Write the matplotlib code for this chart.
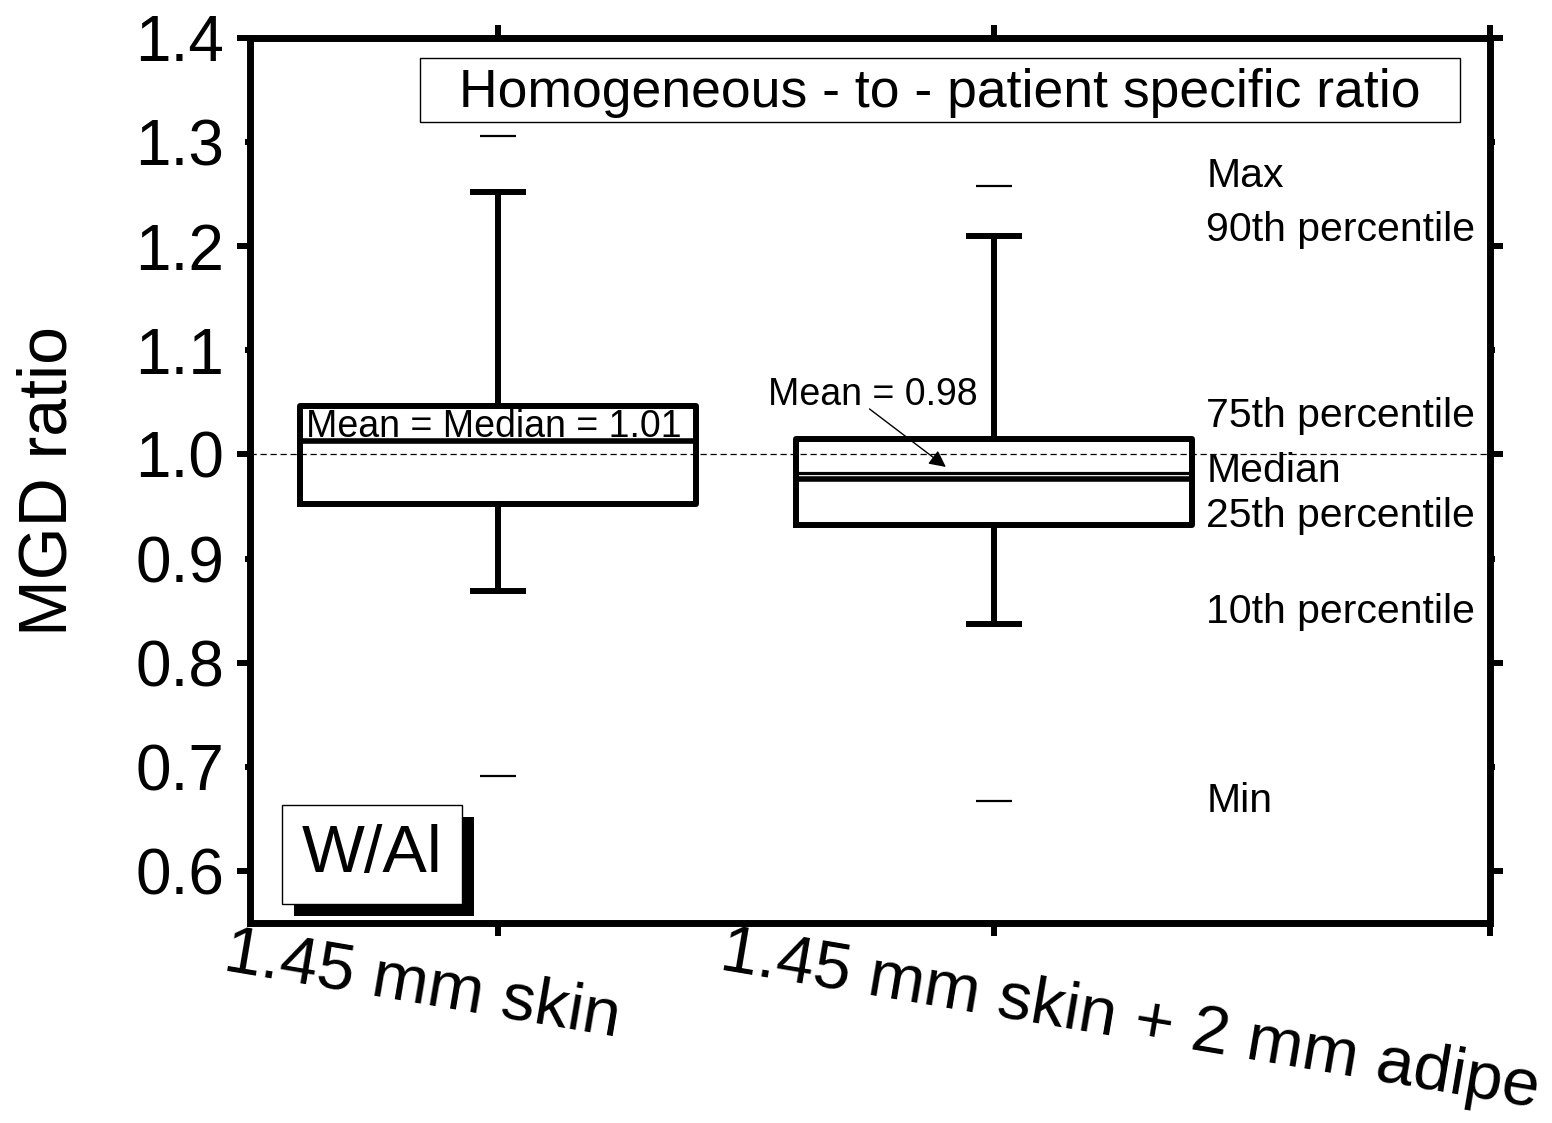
import matplotlib
matplotlib.use("Agg")
import matplotlib.pyplot as plt
from matplotlib.patches import Rectangle
from matplotlib.transforms import ScaledTranslation

plt.rcParams['font.family'] = ['Liberation Sans', 'DejaVu Sans']

# ---- data ----
categories = ["1.45 mm skin", "1.45 mm skin + 2 mm adipe"]
q1 = [0.952, 0.932]
median = [1.013, 0.976]
q3 = [1.047, 1.015]
mean = [1.013, 0.982]
p10 = [0.869, 0.837]
p90 = [1.252, 1.210]
vmin = [0.691, 0.667]
vmax = [1.306, 1.258]

legend_labels = ["Max", "90th percentile", "75th percentile", "Median",
                 "25th percentile", "10th percentile", "Min"]
legend_y = [1.267, 1.216, 1.037, 0.984, 0.941, 0.849, 0.667]

yticks_major = [0.6, 0.8, 1.0, 1.2, 1.4]
yticks_minor = [0.7, 0.9, 1.1, 1.3]

fig = plt.figure(figsize=(15.52, 11.23), dpi=100)
ax = fig.add_axes([250/1552, 1-923/1123, 1240/1552, 885/1123])

positions = [1, 2]
stats = []
for i, c in enumerate(categories):
    stats.append(dict(label=c, q1=q1[i], med=median[i], q3=q3[i], mean=mean[i],
                      whislo=p10[i], whishi=p90[i], fliers=[]))

ax.bxp(stats, positions=positions, widths=0.8, capwidths=0.1,
       showmeans=True, meanline=True, showfliers=False,
       boxprops=dict(color='black', linewidth=4.3),
       medianprops=dict(color='black', linewidth=4.0),
       meanprops=dict(color='black', linewidth=2.3, linestyle='-'),
       whiskerprops=dict(color='black', linewidth=4.3),
       capprops=dict(color='black', linewidth=4.3),
       manage_ticks=False, zorder=3)

# min / max dashes
ax.hlines(vmax, [p - 0.036 for p in positions], [p + 0.036 for p in positions],
          colors='black', linewidth=1.6, zorder=3)
ax.hlines(vmin, [p - 0.036 for p in positions], [p + 0.036 for p in positions],
          colors='black', linewidth=1.6, zorder=3)

# reference line
ax.axhline(1.0, color='black', linewidth=0.9, linestyle=(0, (5, 3)), zorder=2)

ax.set_xlim(0.5, 3.0)
ax.set_ylim(0.55, 1.4)

# spines
for s in ax.spines.values():
    s.set_linewidth(5)

# y ticks
ax.set_yticks(yticks_major)
ax.set_yticklabels([f"{v:.1f}" for v in yticks_major])
ax.set_yticks(yticks_minor, minor=True)
ax.set_yticklabels([f"{v:.1f}" for v in yticks_minor], minor=True)
ax.tick_params(axis='y', which='major', direction='out', length=9.4, width=4.3,
               labelsize=46, pad=9, left=True, right=True)
ax.tick_params(axis='y', which='minor', direction='out', length=3.6, width=4.3,
               labelsize=46, pad=14.8, left=True, right=True)

# x ticks
ax.set_xticks([1, 2, 3])
ax.set_xticklabels(categories + [""])
ax.tick_params(axis='x', which='major', direction='out', length=9.4, width=4.3,
               labelsize=48.5, pad=0, top=True, bottom=True)
offset = ScaledTranslation(-2.68, 0.14, fig.dpi_scale_trans)
for lab in ax.get_xticklabels():
    lab.set_rotation(-9.6)
    lab.set_rotation_mode('anchor')
    lab.set_ha('left')
    lab.set_va('top')
    lab.set_transform(lab.get_transform() + offset)

ax.set_ylabel("MGD ratio", fontsize=49)
ax.yaxis.set_label_coords(-0.137, 0.5)

# title box
ax.add_patch(Rectangle((0.137, 0.905), 0.839, 0.072, transform=ax.transAxes,
                       facecolor='white', edgecolor='black', linewidth=1.0, zorder=4))
ax.text(0.556, 0.938, "Homogeneous - to - patient specific ratio",
        transform=ax.transAxes, ha='center', va='center', fontsize=38.5, zorder=5)

# W/Al box with shadow
ax.add_patch(Rectangle((0.0355, 0.0079), 0.145, 0.1119, transform=ax.transAxes,
                       facecolor='black', edgecolor='black', linewidth=0, zorder=4))
ax.add_patch(Rectangle((0.026, 0.0215), 0.145, 0.1118, transform=ax.transAxes,
                       facecolor='white', edgecolor='black', linewidth=1.0, zorder=5))
ax.text(0.0984, 0.0768, "W/Al", transform=ax.transAxes, ha='center', va='center',
        fontsize=48, zorder=6)

# legend-like labels
for lab, y in zip(legend_labels, legend_y):
    ax.text(2.428, y, lab, ha='left', va='center', fontsize=29.5, zorder=5)

# annotations
ax.text(0.612, 1.017, f"Mean = Median = {mean[0]:.2f}", ha='left', va='baseline',
        fontsize=27, zorder=5)
ax.text(1.545, 1.0475, f"Mean = {mean[1]:.2f}", ha='left', va='baseline',
        fontsize=27, zorder=5)
ax.annotate("", xy=(1.903, 0.988), xytext=(1.749, 1.0437),
            arrowprops=dict(arrowstyle='-|>', color='black', linewidth=1.0,
                            mutation_scale=25, shrinkA=0, shrinkB=0),
            zorder=5)

fig.savefig("out.png", dpi=100)
